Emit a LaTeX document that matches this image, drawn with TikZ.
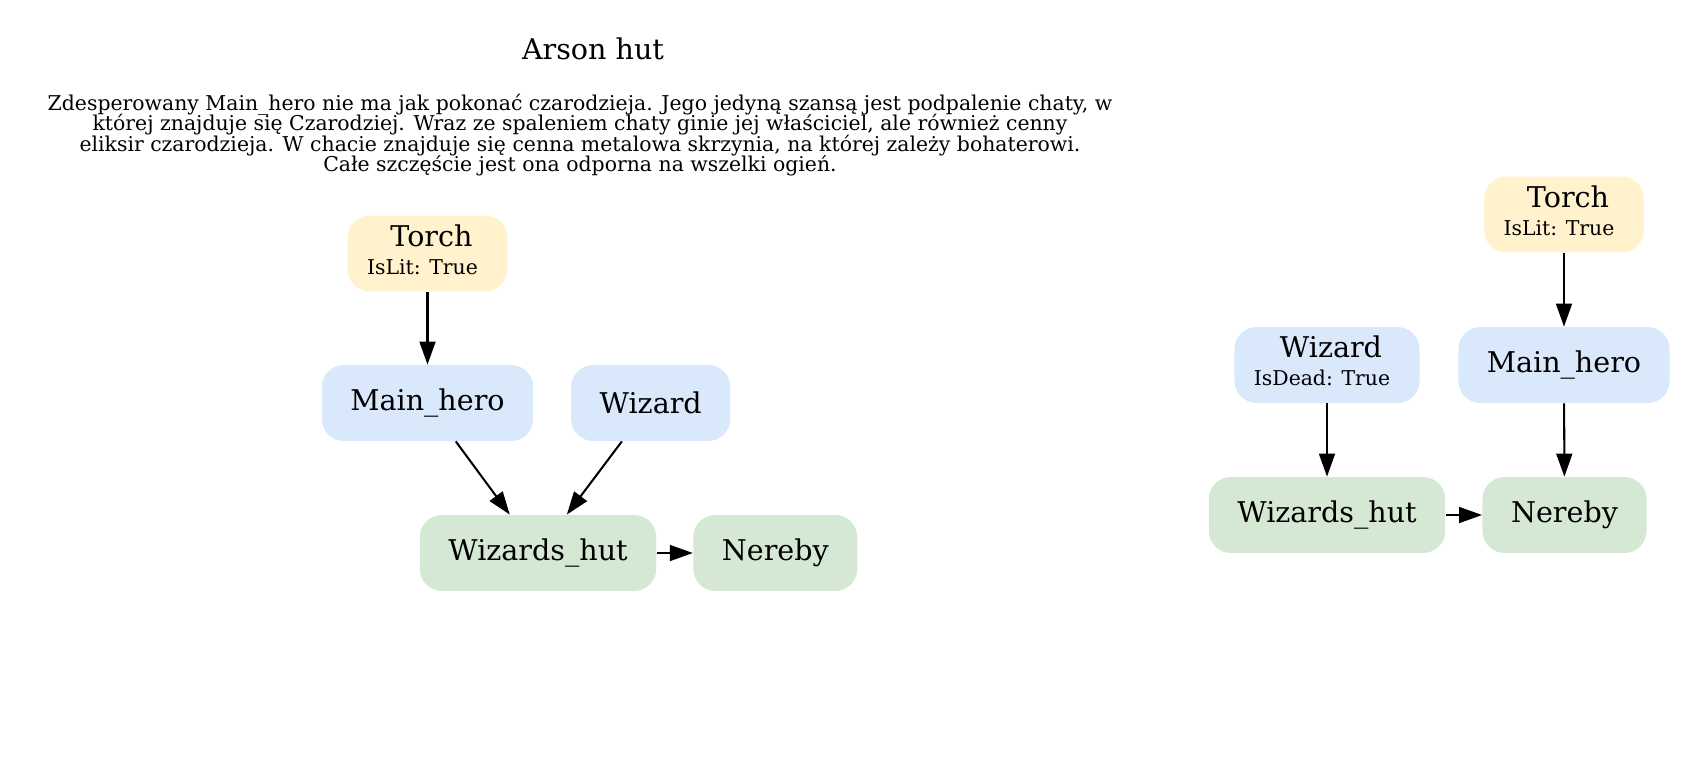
\documentclass[tikz,border=0pt]{standalone}
\usepackage{fontspec}
\setmainfont{DejaVu Serif}
\usetikzlibrary{arrows.meta}
\definecolor{itemyellow}{HTML}{FFF2CC}
\definecolor{charblue}{HTML}{DAE8FC}
\definecolor{placegreen}{HTML}{D5E8D4}
\newcommand\attr[2]{\hspace*{3.9pt}#1\\[-0.4pt]{\fontsize{10}{10}\selectfont #2\hspace*{4.9pt}\rule[-4pt]{0pt}{0pt}}}
\newcommand\storyfont{\fontsize{10}{10}\selectfont\lineskiplimit=-100pt\relax}

\tikzset{
  box/.style={rounded corners=10.8pt, minimum height=37.2pt, inner xsep=14pt, inner ysep=0pt,
    font=\fontsize{14}{14}\selectfont, align=center},
  attrbox/.style={inner xsep=9.5pt},
  itembox/.style={box, fill=itemyellow},
  charbox/.style={box, fill=charblue},
  placebox/.style={box, fill=placegreen},
  link/.style={-{Triangle[length=11.3pt,width=7.8pt]}, line width=1pt},
}

\begin{document}
\begin{tikzpicture}[x=0.49pt,y=-0.49pt]

\useasboundingbox (0,0) rectangle (1698,769);

\node[font=\fontsize{14}{14}\selectfont, anchor=base] (title) at (593,59) {Arson hut};
\node[font=\storyfont, align=center] (story) at (580,135)
  {Zdesperowany Main\_hero nie ma jak pokonać czarodzieja. Jego jedyną szansą jest podpalenie chaty, w\\
   której znajduje się Czarodziej. Wraz ze spaleniem chaty ginie jej właściciel, ale również cenny\\
   eliksir czarodzieja. W chacie znajduje się cenna metalowa skrzynia, na której zależy bohaterowi.\\
   Całe szczęście jest ona odporna na wszelki ogień.};

\node[itembox, attrbox] (torchA) at (427.5,253.5) {\attr{Torch}{IsLit: True}};
\node[charbox] (heroA) at (427.5,403) {Main\_hero};
\node[charbox] (wizA) at (650.7,403) {Wizard};
\node[placebox] (hutA) at (538,553) {Wizards\_hut};
\node[placebox] (nerebyA) at (775.3,553) {Nereby};

\draw[link] (torchA) -- (heroA);
\draw[link] (heroA) -- (hutA);
\draw[link] (wizA) -- (hutA);
\draw[link] (hutA) -- (nerebyA);

\node[itembox, attrbox] (torchB) at (1564,214.5) {\attr{Torch}{IsLit: True}};
\node[charbox, attrbox] (wizB) at (1327,365) {\attr{Wizard}{IsDead: True}};
\node[charbox] (heroB) at (1564,365) {Main\_hero};
\node[placebox] (hutB) at (1327,515) {Wizards\_hut};
\node[placebox] (nerebyB) at (1564.5,515) {Nereby};

\draw[link] (torchB) -- (heroB);
\draw[link] (wizB) -- (hutB);
\draw[link] (heroB) -- (nerebyB);
\draw[link] (hutB) -- (nerebyB);

\end{tikzpicture}
\end{document}
